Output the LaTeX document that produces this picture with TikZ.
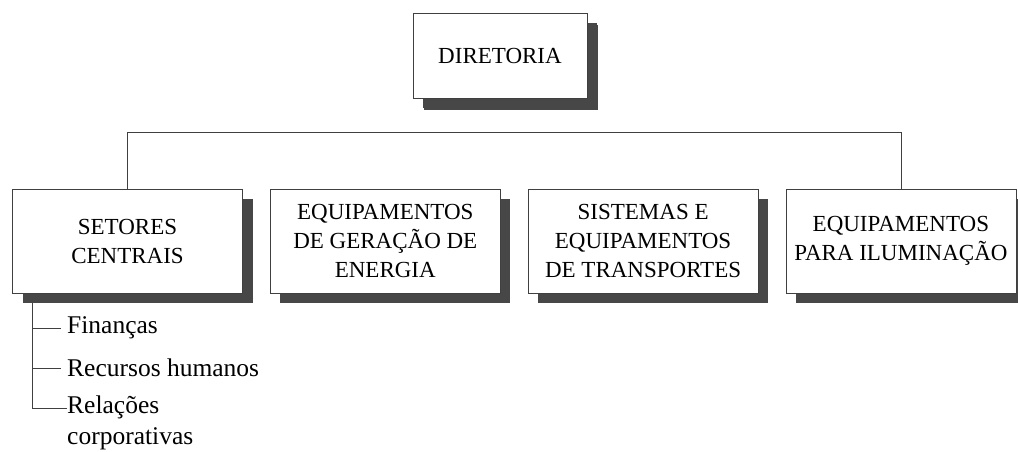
\documentclass[tikz,border=0pt]{standalone}
\usepackage{fontspec}
\setmainfont{Liberation Serif}
\usepackage{tikz}
\usetikzlibrary{positioning, shadows, calc}

\tikzset{
  unidade/.style={draw=black!75, line width=0.8pt, fill=white, align=center,
    minimum width=230pt, minimum height=104pt, inner sep=0pt,
    font=\fontsize{23}{29}\selectfont,
    drop shadow={shadow xshift=10pt, shadow yshift=-10pt, fill=black!72, opacity=1}},
  topo/.style={unidade, minimum width=174pt, minimum height=85pt,
    drop shadow={shadow xshift=11pt, shadow yshift=-12pt, fill=black!72, opacity=1}},
  item/.style={anchor=west, inner sep=0pt, font=\fontsize{25.5}{31}\selectfont},
  linha/.style={draw=black!75, line width=0.8pt}
}

\begin{document}
\begin{tikzpicture}[x=1pt, y=-1pt]
        \useasboundingbox (0,0) rectangle (1018,451);
        % diretoria e unidades
        \node[topo] (dir) at (500,55.5) {DIRETORIA};
        \node[unidade] (set) at (127.5,241) {SETORES\\CENTRAIS};
        \node[unidade, right=27pt of set] (ger) {EQUIPAMENTOS\\DE GERAÇÃO DE\\ENERGIA};
        \node[unidade, right=27pt of ger] (tra) {SISTEMAS E\\EQUIPAMENTOS\\DE TRANSPORTES};
        \node[unidade, right=27pt of tra] (ilu) {EQUIPAMENTOS\\PARA ILUMINAÇÃO};
        \coordinate (barra) at (500,132);
        \draw[linha] (set.north) -- (set.north |- barra) -- (ilu.north |- barra) -- (ilu.north);
        % setores centrais
        \coordinate (tronco) at (32,303);
        \node[item] (fin) at (67,328) {Finanças};
        \node[item] (rh) at (67,368) {Recursos humanos};
        \node[item, align=left, anchor=north west] (rel) at (67,396) {Relações\\corporativas};
        \coordinate (relc) at ([yshift=-12pt]rel.north west);
        \draw[linha] (tronco) |- (relc);
        \draw[linha] (tronco |- fin.west) -- ([xshift=-6pt]fin.west);
        \draw[linha] (tronco |- rh.west) -- ([xshift=-6pt]rh.west);
        \draw[linha] (tronco |- relc) -- ([xshift=-6pt]relc);
    \end{tikzpicture}
\end{document}
